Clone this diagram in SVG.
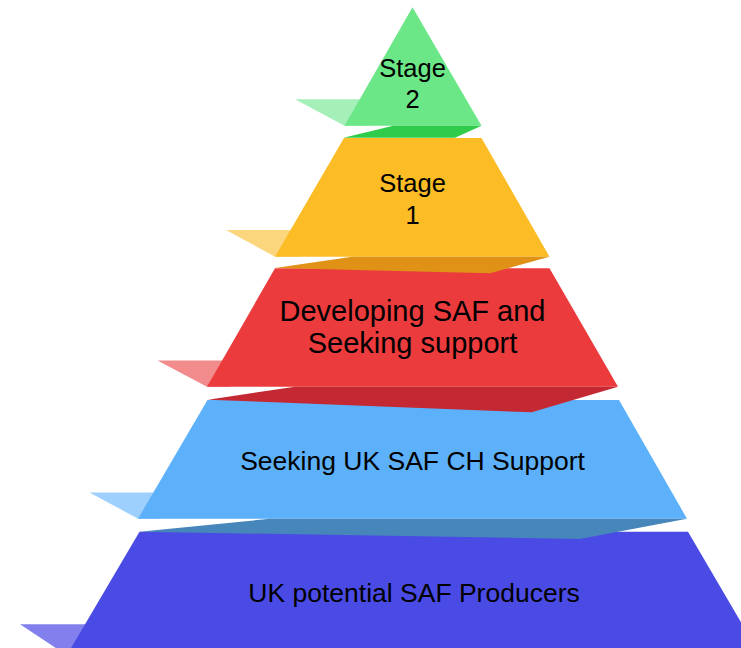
<svg xmlns="http://www.w3.org/2000/svg" width="741" height="648" viewBox="0 0 741 648">
<style>
text { font-family: "Liberation Sans", Arial, sans-serif; fill: #000; text-anchor: middle; }
.g-body { fill: #6BE788; } .g-flap { fill: #A5F0B8; } .g-band { fill: #2ECC4A; }
.y-body { fill: #FBBC26; } .y-flap { fill: #FCD67D; } .y-band { fill: #E09217; }
.r-body { fill: #EB3B3D; } .r-flap { fill: #F28B8C; } .r-band { fill: #C42833; }
.b-body { fill: #5DB1FA; } .b-flap { fill: #9ED0FD; } .b-band { fill: #4686BA; }
.i-body { fill: #4A4BE4; } .i-flap { fill: #8180EC; }
</style>
<rect width="741" height="648" fill="#FFFFFF"/>
<g id="connectors"></g>
<g id="uk-potential-saf-producers">
  <polygon class="i-flap" points="20,624.3 100,624.3 100,660 74,660"/>
  <polygon class="i-body" points="139.5,531.7 688,531.7 763,660 64,660"/>
  <text x="414" y="601.5" font-size="26.5">UK potential SAF Producers</text>
</g>
<g id="seeking-uk-saf-ch-support">
  <polygon class="b-flap" points="89.5,492.5 160,492.5 160,518.7 138,518.7"/>
  <polygon class="b-body" points="207.5,400 619,400 687,518.7 138,518.7"/>
  <polygon class="b-band" points="139.5,531.7 270.5,518.7 687,518.7 579.5,539"/>
  <text x="412.5" y="470" font-size="26.5">Seeking UK SAF CH Support</text>
</g>
<g id="developing-saf">
  <polygon class="r-flap" points="157.5,360.5 230,360.5 230,386.7 207,386.7"/>
  <polygon class="r-body" points="275,268.3 549.5,268.3 618,386.7 207,386.7"/>
  <polygon class="r-band" points="208,399.7 295,386.7 618,386.7 531.7,412.3"/>
  <text x="412.5" y="321" font-size="29">Developing SAF and</text>
  <text x="412.5" y="353" font-size="29">Seeking support</text>
</g>
<g id="stage-1">
  <polygon class="y-flap" points="226,230 300,230 300,256.7 275,256.7"/>
  <polygon class="y-body" points="344,138 481.5,138 549.5,256.7 275,256.7"/>
  <polygon class="y-band" points="275,267.9 352,256.7 549.5,256.7 490,273.3"/>
  <text x="412.5" y="192.3" font-size="25.5">Stage</text>
  <text x="412.5" y="224" font-size="25.5">1</text>
</g>
<g id="stage-2">
  <polygon class="g-flap" points="295,99.3 370,99.3 370,125.7 344.5,125.7"/>
  <polygon class="g-body" points="412.5,7.3 481.5,125.7 344.5,125.7"/>
  <polygon class="g-band" points="343.5,137.7 393.3,125.7 481.5,125.7 455,137.8"/>
  <text x="412.5" y="77.3" font-size="25.5">Stage</text>
  <text x="412.5" y="108.3" font-size="25.5">2</text>
</g>
</svg>
